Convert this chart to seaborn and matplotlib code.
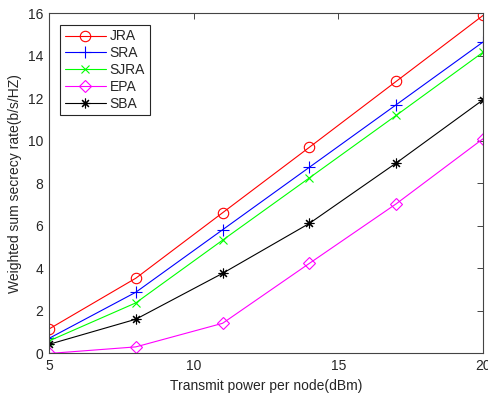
import pandas as pd
import matplotlib
matplotlib.use("Agg")
import matplotlib.pyplot as plt
import seaborn as sns

power = [5, 8, 11, 14, 17, 20]
jra = [1.15, 3.54, 6.62, 9.70, 12.80, 15.90]
sra = [0.71, 2.88, 5.82, 8.76, 11.70, 14.65]
sjra = [0.59, 2.38, 5.33, 8.26, 11.20, 14.17]
epa = [0.0, 0.31, 1.42, 4.24, 7.04, 10.10]
sba = [0.43, 1.61, 3.77, 6.12, 8.96, 11.93]

names = ["JRA", "SRA", "SJRA", "EPA", "SBA"]
series = [jra, sra, sjra, epa, sba]
colors = ["#ff0000", "#0000ff", "#00ff00", "#ff00ff", "#000000"]
markers = ["o", "+", "x", "D", (8, 2, 0)]
msizes = [7.5, 8, 6, 6, 7]

sns.set_style("white")
plt.rcParams["font.family"] = ["Liberation Sans", "DejaVu Sans"]
plt.rcParams["font.size"] = 10

fig = plt.figure(figsize=(4.88, 4.0), dpi=100)
ax = fig.add_axes([0.1004, 0.1163, 0.8894, 0.8504])

for name, vals, c, m, ms in zip(names, series, colors, markers, msizes):
    df = pd.DataFrame({"power": power, "rate": vals})
    sns.lineplot(data=df, x="power", y="rate", ax=ax, color=c, marker=m,
                 markersize=ms, markerfacecolor="none", markeredgecolor=c,
                 markeredgewidth=0.8, linewidth=0.8, label=name)

ax.set_xlim(5, 20)
ax.set_ylim(0, 16)
ax.set_xticks([5, 10, 15, 20])
ax.set_yticks(range(0, 17, 2))
ax.set_xlabel("Transmit power per node(dBm)", fontsize=10, color="#262626")
ax.set_ylabel("Weighted sum secrecy rate(b/s/HZ)", fontsize=10, color="#262626")
ax.tick_params(direction="in", length=4, width=0.6, top=True, right=True,
               colors="#262626", labelsize=10, pad=4)
for sp in ax.spines.values():
    sp.set_color("#444444")
    sp.set_linewidth(0.8)

leg = ax.legend(loc="upper left", bbox_to_anchor=(0.02, 0.975), fancybox=False,
                framealpha=1, edgecolor="#262626", handlelength=2.9,
                handletextpad=0.3, labelspacing=0.2, borderpad=0.35,
                borderaxespad=0.2, fontsize=10)
leg.get_frame().set_linewidth(0.8)

fig.savefig("out.png", dpi=100)
